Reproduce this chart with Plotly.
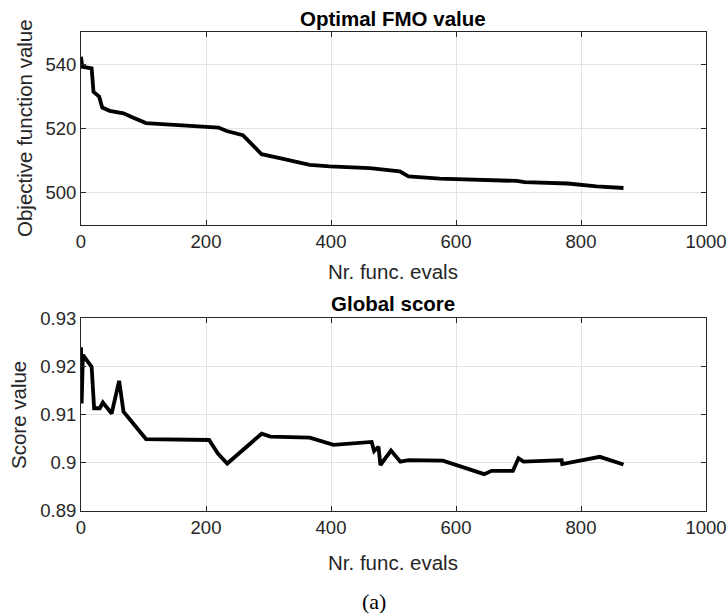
import plotly.graph_objects as go

# Top panel: Optimal FMO value
fmo_x = [0, 2, 17, 20, 29, 34, 46, 68, 81, 104, 220, 233, 259, 289, 318, 366, 398,
         462, 510, 524, 574, 649, 657, 697, 710, 769, 779, 825, 868]
fmo_y = [542.3, 539.2, 538.7, 531.4, 529.9, 526.5, 525.5, 524.7, 523.6, 521.7, 520.3,
         519.2, 517.9, 512.0, 510.8, 508.7, 508.2, 507.7, 506.7, 505.1, 504.4, 504.1,
         503.8, 503.7, 503.3, 503.2, 502.9, 502.0, 501.5]

# Bottom panel: Global score
gs_x = [0, 1, 3, 17, 21, 30, 35, 49, 61, 68, 104, 205, 219, 234, 289, 303, 366, 404,
        465, 469, 476, 479, 496, 511, 524, 579, 645, 657, 691, 700, 708, 769, 770, 830, 868]
gs_y = [0.9240, 0.9123, 0.9224, 0.9199, 0.9113, 0.9113, 0.9125, 0.9102, 0.9170, 0.9106,
        0.9049, 0.9047, 0.9019, 0.8998, 0.9060, 0.9054, 0.9052, 0.9037, 0.9043, 0.9024,
        0.9033, 0.8995, 0.9025, 0.9002, 0.9005, 0.9004, 0.8976, 0.8983, 0.8983, 0.9009,
        0.9002, 0.9005, 0.8997, 0.9012, 0.8996]

x_ticks = [0, 200, 400, 600, 800, 1000]
fmo_ticks = [500, 520, 540]
gs_ticks = [0.89, 0.9, 0.91, 0.92, 0.93]
gs_ticklabels = ["0.89", "0.9", "0.91", "0.92", "0.93"]

W, H = 728, 616
AX = "#262626"
GRID = "#e3e3e3"
FONT = "Liberation Sans, Arial, sans-serif"

def py(p):
    return 1 - p / H

fig = go.Figure()
fig.add_trace(go.Scatter(x=fmo_x, y=fmo_y, mode="lines",
                         line=dict(color="black", width=3.8), xaxis="x", yaxis="y",
                         showlegend=False))
fig.add_trace(go.Scatter(x=gs_x, y=gs_y, mode="lines",
                         line=dict(color="black", width=3.8), xaxis="x2", yaxis="y2",
                         showlegend=False))

common_axis = dict(showline=True, linecolor=AX, linewidth=1, mirror="ticks",
                   ticks="inside", ticklen=5, tickcolor=AX, showgrid=True,
                   gridcolor=GRID, gridwidth=1, zeroline=False, automargin=False,
                   tickfont=dict(family=FONT, size=18.5, color=AX))

xd = [81 / W, 706 / W]
fig.update_layout(
    width=W, height=H, margin=dict(l=0, r=0, t=0, b=0, pad=0, autoexpand=False),
    autosize=False,
    plot_bgcolor="white", paper_bgcolor="white",
    xaxis=dict(domain=xd, range=[0, 1000], tickvals=x_ticks, anchor="y", **common_axis),
    yaxis=dict(domain=[py(225), py(32)], range=[490, 550], tickvals=fmo_ticks,
               anchor="x", **common_axis),
    xaxis2=dict(domain=xd, range=[0, 1000], tickvals=x_ticks, anchor="y2", **common_axis),
    yaxis2=dict(domain=[py(510.7), py(318.3)], range=[0.89, 0.93], tickvals=gs_ticks,
                ticktext=gs_ticklabels, anchor="x2", **common_axis),
)

def ann(text, x, y, size=16, bold=False, angle=0, family=FONT, color=AX):
    fig.add_annotation(text=f"<b>{text}</b>" if bold else text,
                       x=x / W, y=py(y), xref="paper", yref="paper",
                       showarrow=False, textangle=angle,
                       xanchor="center", yanchor="middle",
                       font=dict(family=family, size=size, color=color))

ann("Optimal FMO value", 393, 18, size=20.5, bold=True, color="black")
ann("Global score", 393, 304, size=20.5, bold=True, color="black")
ann("Nr. func. evals", 393, 272, size=20.5)
ann("Nr. func. evals", 393, 562, size=20.5)
ann("Objective function value", 24, 128, size=20.5, angle=-90)
ann("Score value", 18, 415, size=20.5, angle=-90)
ann("(a)", 374, 601, size=22, family="Liberation Serif, DejaVu Serif, serif", color="black")

fig.write_html("out.html")
